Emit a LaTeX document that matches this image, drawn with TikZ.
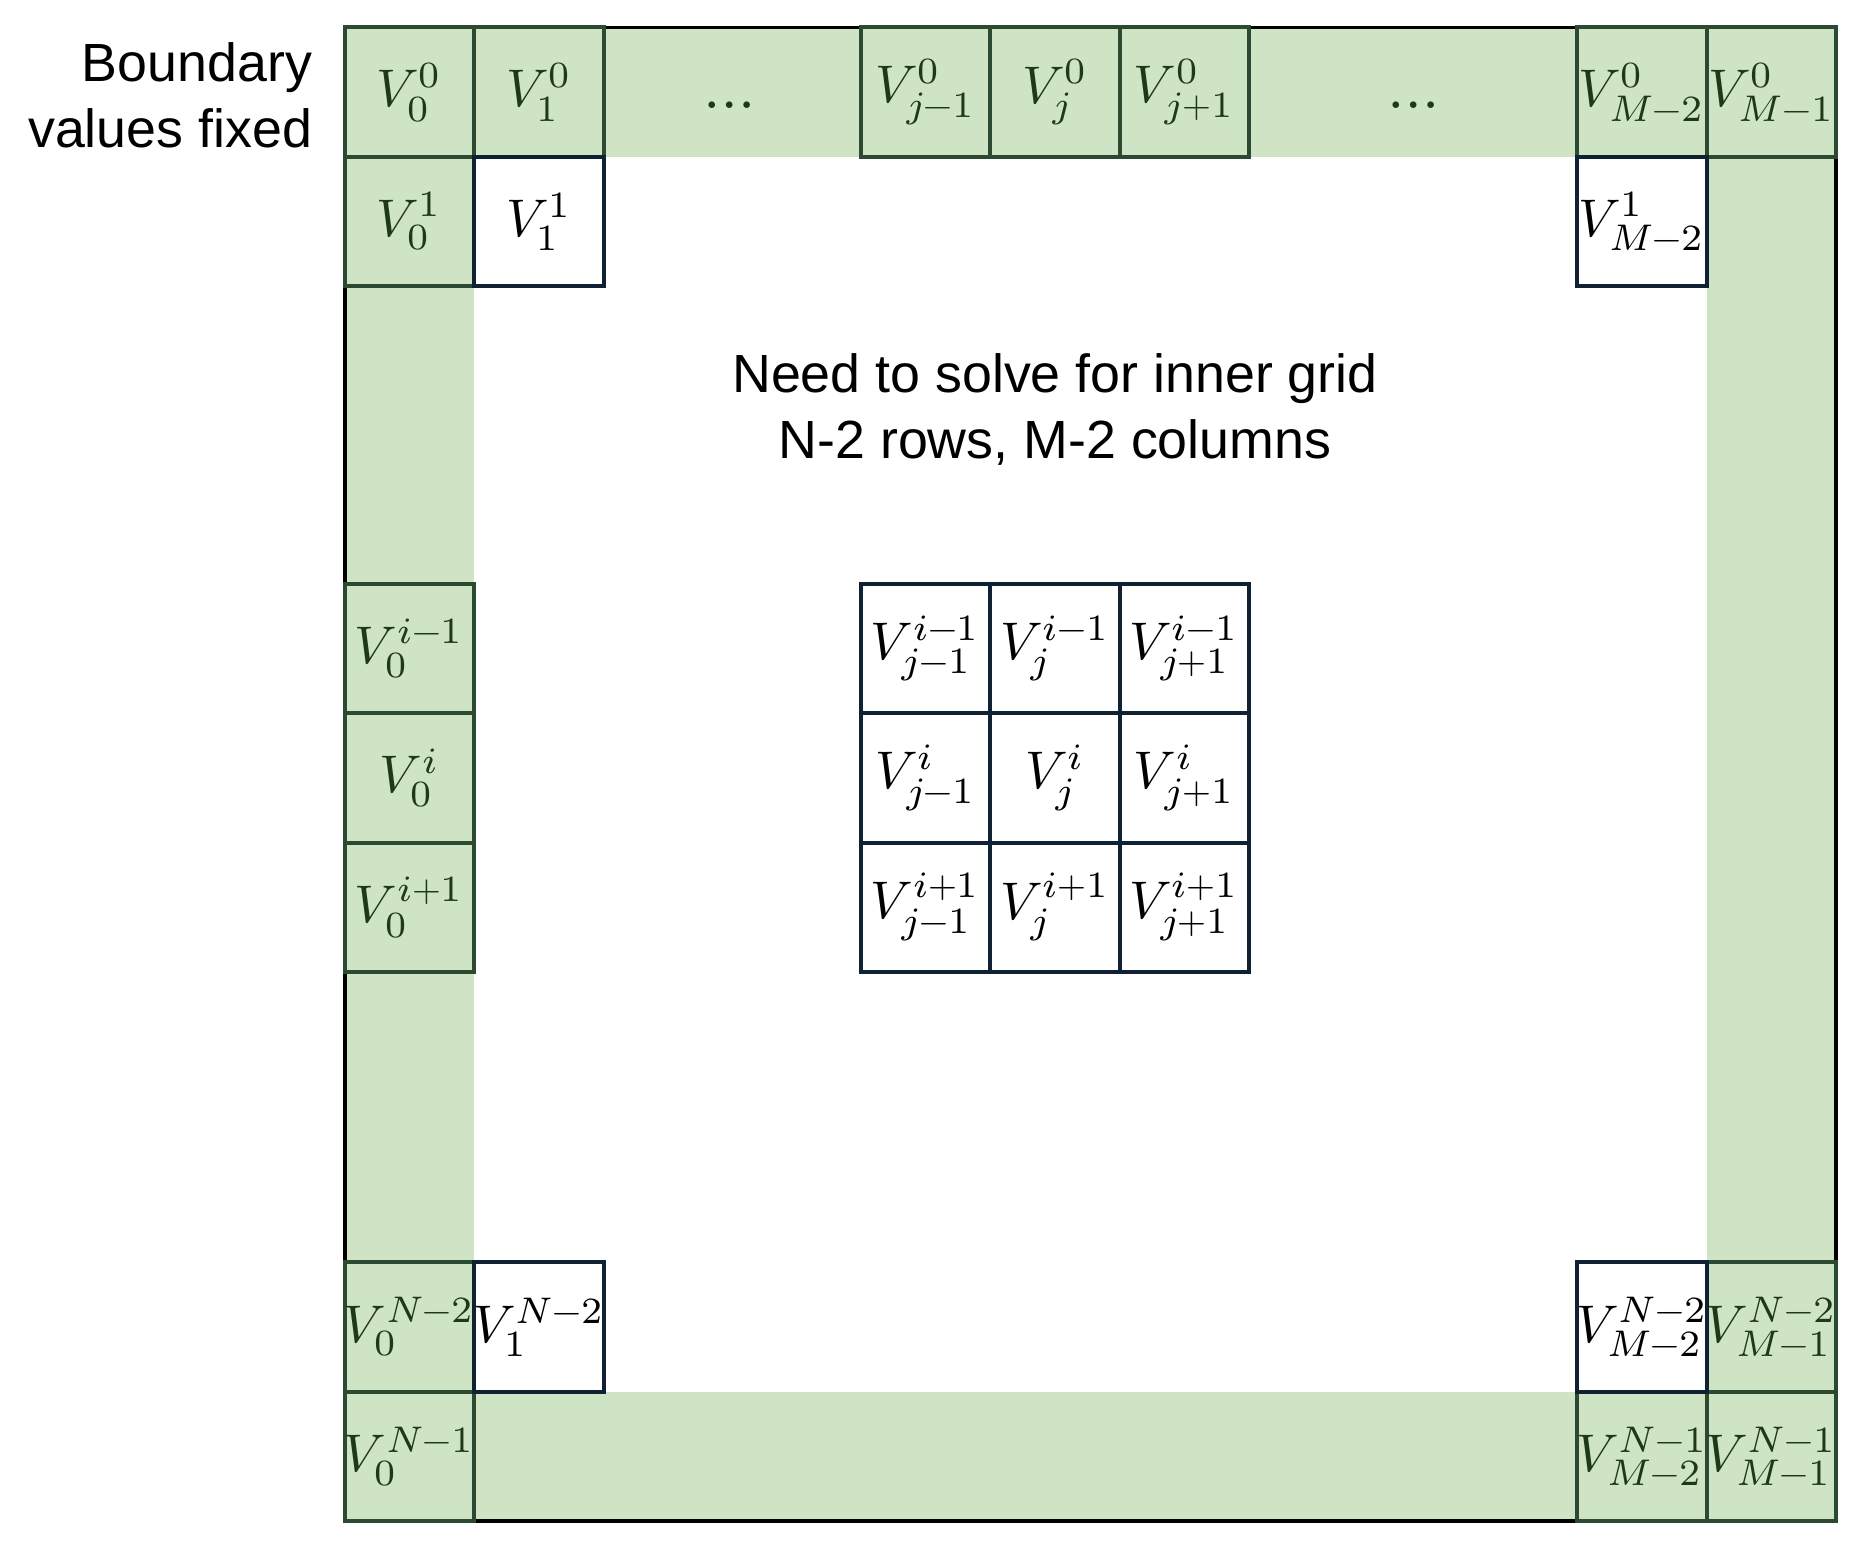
\documentclass[tikz,border=0pt]{standalone}
\usepackage{fontspec}
\usepackage{unicode-math}
\setmathfont{Latin Modern Math}
\newfontfamily\sanf{Liberation Sans}
\definecolor{gfill}{RGB}{207,227,197}
\definecolor{gline}{RGB}{44,74,50}
\definecolor{nline}{RGB}{14,34,51}
\definecolor{gtext}{RGB}{30,58,20}
\newcommand{\cellv}[1]{\makebox[25.86pt][c]{$#1$}}
\tikzset{
  cellbase/.style={minimum width=25.86pt, minimum height=25.86pt, inner sep=0pt,
    line width=0.8pt, font=\fontsize{10.6}{13}\selectfont},
  gcell/.style={cellbase, draw=gline, fill=gfill, text=gtext},
  wcell/.style={cellbase, draw=nline, fill=white, text=black},
  lbl/.style={font=\sanf\fontsize{10.75}{13.2}\selectfont, inner sep=0pt},
  dotsnode/.style={inner sep=0pt, text=gtext, font=\fontsize{12.5}{14}\selectfont},
}
\begin{document}
\begin{tikzpicture}[x=0.2pt, y=-0.2pt]
\useasboundingbox (0,0) rectangle (1872,1546);
% green boundary band
\fill[gfill] (345,27.5) rectangle (1836,156.8);
\fill[gfill] (345,27.5) rectangle (474.3,1521);
\fill[gfill] (1707,27.5) rectangle (1836,1521);
\fill[gfill] (345,1391.7) rectangle (1836,1521);
% outer frame
\draw[black, line width=0.75pt] (345,27.5) rectangle (1836,1521);

% green cells
\node[gcell] (t0)  at (409.65,92.15)  {\cellv{V_0^0}};
\node[gcell] (t1)  at (538.95,92.15)  {\cellv{V_1^0}};
\node[gcell] (tjm) at (925.65,92.15)  {\cellv{V_{j-1}^0}};
\node[gcell] (tj)  at (1054.95,92.15) {\cellv{V_j^0}};
\node[gcell] (tjp) at (1184.25,92.15) {\cellv{V_{j+1}^0}};
\node[gcell] (tm2) at (1642.05,92.15) {\cellv{V_{M-2}^0}};
\node[gcell] (tm1) at (1771.35,92.15) {\cellv{V_{M-1}^0}};
\node[gcell] (r1c0) at (409.65,221.45) {\cellv{V_0^1}};
\node[gcell] (lim) at (409.65,648.65) {\cellv{V_0^{i-1}}};
\node[gcell] (li)  at (409.65,777.95) {\cellv{V_0^{i}}};
\node[gcell] (lip) at (409.65,907.25) {\cellv{V_0^{i+1}}};
\node[gcell] (bn2c0) at (409.65,1327.05) {\cellv{V_0^{N-2}}};
\node[gcell] (bn2m1) at (1771.35,1327.05) {\cellv{V_{M-1}^{N-2}}};
\node[gcell] (bn1c0) at (409.65,1456.35) {\cellv{V_0^{N-1}}};
\node[gcell] (bn1m2) at (1642.05,1456.35) {\cellv{V_{M-2}^{N-1}}};
\node[gcell] (bn1m1) at (1771.35,1456.35) {\cellv{V_{M-1}^{N-1}}};

% white cells
\node[wcell] (r1c1) at (538.95,221.45) {\cellv{V_1^1}};
\node[wcell] (r1m2) at (1642.05,221.45) {\cellv{V_{M-2}^1}};
\node[wcell] (bn2c1) at (538.95,1327.05) {\cellv{V_1^{N-2}}};
\node[wcell] (bn2m2) at (1642.05,1327.05) {\cellv{V_{M-2}^{N-2}}};

% central 3x3 stencil
\node[wcell] (a11) at (925.65,648.65)  {\cellv{V_{j-1}^{i-1}}};
\node[wcell] (a12) at (1054.95,648.65) {\cellv{V_{j}^{i-1}}};
\node[wcell] (a13) at (1184.25,648.65) {\cellv{V_{j+1}^{i-1}}};
\node[wcell] (a21) at (925.65,777.95)  {\cellv{V_{j-1}^{i}}};
\node[wcell] (a22) at (1054.95,777.95) {\cellv{V_{j}^{i}}};
\node[wcell] (a23) at (1184.25,777.95) {\cellv{V_{j+1}^{i}}};
\node[wcell] (a31) at (925.65,907.25)  {\cellv{V_{j-1}^{i+1}}};
\node[wcell] (a32) at (1054.95,907.25) {\cellv{V_{j}^{i+1}}};
\node[wcell] (a33) at (1184.25,907.25) {\cellv{V_{j+1}^{i+1}}};

% ellipses
\node[dotsnode] (d1) at (729.5,105) {$\ldots$};
\node[dotsnode] (d2) at (1413.6,105) {$\ldots$};

% labels
\node[lbl, anchor=east, align=right] (bnd) at (313,95.5) {Boundary\\values fixed};
\node[lbl, align=center] (need) at (1054.95,409) {Need to solve for inner grid\\N-2 rows, M-2 columns};
\end{tikzpicture}
\end{document}
